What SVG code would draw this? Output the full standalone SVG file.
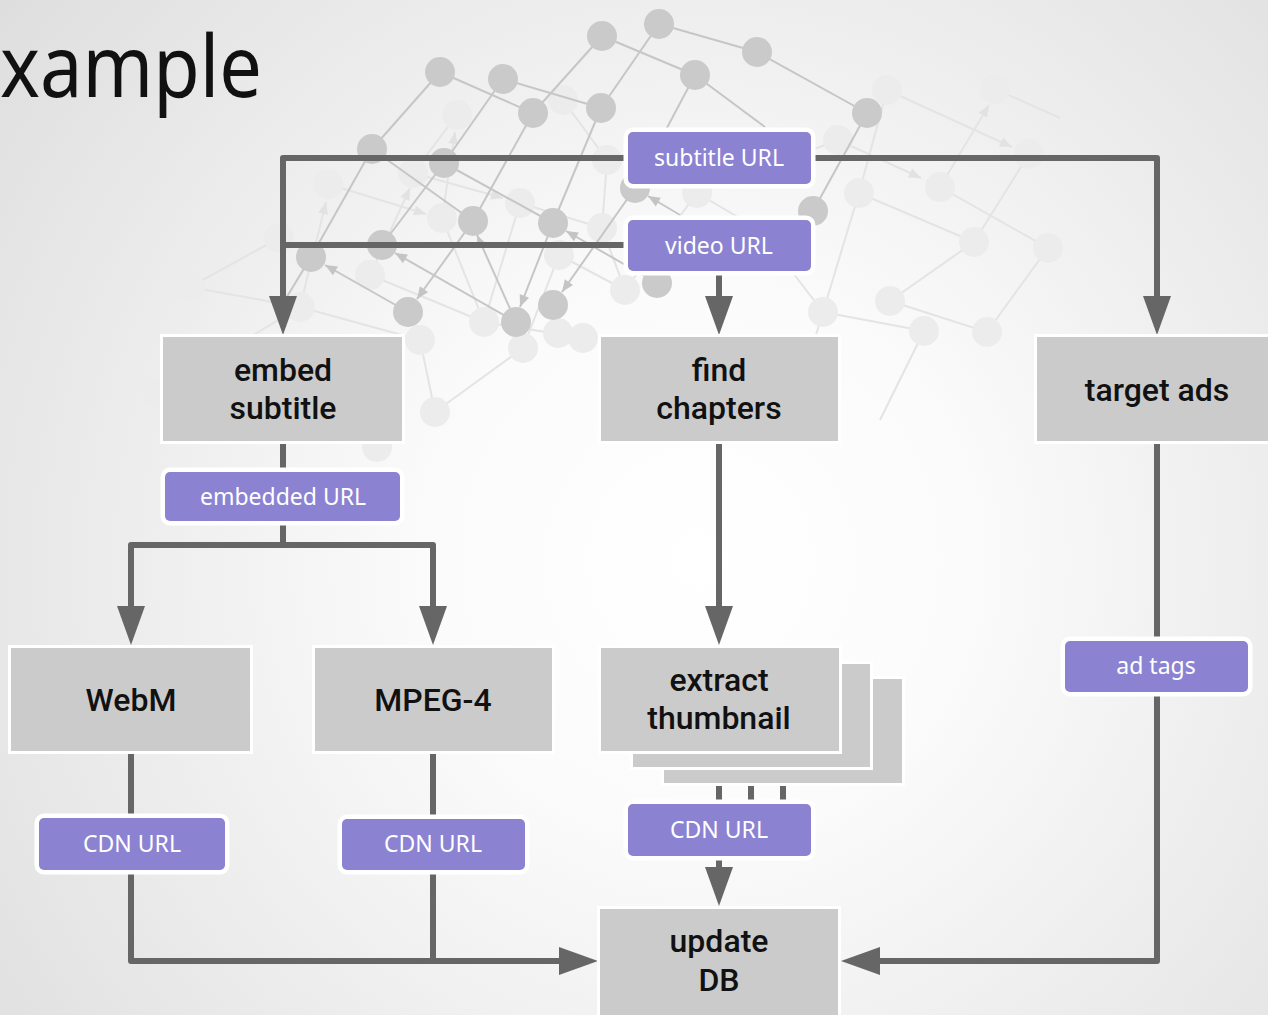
<svg xmlns="http://www.w3.org/2000/svg" width="1268" height="1015" viewBox="0 0 1268 1015">
  <defs>
    <radialGradient id="bg" gradientUnits="userSpaceOnUse" cx="700" cy="560" r="900">
      <stop offset="0" stop-color="#ffffff"/>
      <stop offset="0.3" stop-color="#fbfbfb"/>
      <stop offset="1" stop-color="#dedede"/>
    </radialGradient>
    <marker id="head" markerUnits="userSpaceOnUse" markerWidth="40" markerHeight="30" refX="0" refY="14" orient="auto" overflow="visible">
      <path d="M0,0 L39,14 L0,28 Z" fill="#666666"/>
    </marker>
    <marker id="netDark" markerUnits="userSpaceOnUse" markerWidth="14" markerHeight="12" refX="12" refY="5" orient="auto" overflow="visible">
      <path d="M0,0 L12,5 L0,10 Z" fill="#c4c4c4"/>
    </marker>
    <marker id="netLight" markerUnits="userSpaceOnUse" markerWidth="14" markerHeight="12" refX="12" refY="5" orient="auto" overflow="visible">
      <path d="M0,0 L12,5 L0,10 Z" fill="#e2e2e2"/>
    </marker>
    <style>
      .box { fill: #cbcbcb; stroke: #ffffff; stroke-width: 6; paint-order: stroke; }
      .tag { fill: #8b83d2; stroke: #ffffff; stroke-width: 9; stroke-linejoin: round; paint-order: stroke; }
      .btxt { font-family: Roboto, "Noto Sans", sans-serif; font-size: 32px; font-weight: 500; fill: #111111; text-anchor: middle; }
      .ttxt { font-family: "Noto Sans", "Open Sans", sans-serif; font-size: 23px; fill: #ffffff; text-anchor: middle; }
      .conn { fill: none; stroke: #666666; stroke-width: 6; stroke-linejoin: round; }
      .conn.arrow { marker-end: url(#head); }
      .nd { stroke: #c6c6c6; stroke-width: 2; fill: none; }
      .nd.a { marker-end: url(#netDark); }
      .nl { stroke: #e4e4e4; stroke-width: 2; fill: none; }
      .nl.a { marker-end: url(#netLight); }
      .cd { fill: #cacaca; }
      .cl { fill: #ececec; }
    </style>
  </defs>

  <!-- page background -->
  <rect x="0" y="0" width="1268" height="1015" fill="url(#bg)"/>

  <!-- title -->
  <text x="0" y="97" textLength="262" lengthAdjust="spacingAndGlyphs" font-family="Noto Sans, Open Sans, sans-serif" font-size="86" fill="#111111">xample</text>

  <!-- decorative network mesh -->
  <g id="mesh">
    <g id="mesh-light-lines">
      <path class="nl" d="M300,307 L190,287"/>
      <path class="nl" d="M190,287 L279,238"/>
      <path class="nl a" d="M300,307 L326,202"/>
      <path class="nl a" d="M328,184 L426,214"/>
      <path class="nl a" d="M370,275 L410,188"/>
      <path class="nl" d="M370,275 L484,322"/>
      <path class="nl" d="M442,218 L484,322"/>
      <path class="nl" d="M457,115 L413,173"/>
      <path class="nl a" d="M442,218 L455,132"/>
      <path class="nl" d="M520,203 L484,322"/>
      <path class="nl" d="M520,203 L602,228"/>
      <path class="nl" d="M563,100 L607,160"/>
      <path class="nl" d="M607,160 L602,228"/>
      <path class="nl a" d="M413,173 L503,198"/>
      <path class="nl" d="M602,228 L625,290"/>
      <path class="nl" d="M697,193 L625,290"/>
      <path class="nl" d="M559,255 L523,348"/>
      <path class="nl" d="M559,255 L625,290"/>
      <path class="nl" d="M484,322 L583,338"/>
      <path class="nl" d="M420,340 L435,412"/>
      <path class="nl" d="M300,307 L420,340"/>
      <path class="nl" d="M157,393 L300,307"/>
      <path class="nl" d="M523,348 L435,412"/>
      <path class="nl" d="M697,193 L838,140"/>
      <path class="nl a" d="M887,90 L1012,147"/>
      <path class="nl" d="M995,89 L1060,118"/>
      <path class="nl a" d="M940,187 L989,105"/>
      <path class="nl a" d="M838,140 L921,178"/>
      <path class="nl" d="M1029,154 L974,242"/>
      <path class="nl" d="M859,193 L974,242"/>
      <path class="nl" d="M940,187 L1048,248"/>
      <path class="nl" d="M974,242 L890,301"/>
      <path class="nl" d="M1048,248 L987,332"/>
      <path class="nl" d="M859,193 L823,312"/>
      <path class="nl" d="M823,312 L924,331"/>
      <path class="nl" d="M890,301 L987,332"/>
      <path class="nl" d="M887,90 L859,193"/>
      <path class="nl" d="M823,312 L790,420"/>
      <path class="nl" d="M924,331 L880,420"/>
      <path class="nl" d="M1029,154 L1060,160"/>
      <path class="nl" d="M697,193 L760,230 L823,312"/>
    </g>
    <g id="mesh-light-nodes">
      <circle class="cl" cx="457" cy="115" r="15"/>
      <circle class="cl" cx="563" cy="100" r="15"/>
      <circle class="cl" cx="607" cy="160" r="15"/>
      <circle class="cl" cx="328" cy="184" r="15"/>
      <circle class="cl" cx="413" cy="173" r="15"/>
      <circle class="cl" cx="442" cy="218" r="15"/>
      <circle class="cl" cx="520" cy="203" r="15"/>
      <circle class="cl" cx="602" cy="228" r="15"/>
      <circle class="cl" cx="697" cy="193" r="15"/>
      <circle class="cl" cx="370" cy="275" r="15"/>
      <circle class="cl" cx="300" cy="307" r="15"/>
      <circle class="cl" cx="484" cy="322" r="15"/>
      <circle class="cl" cx="559" cy="255" r="15"/>
      <circle class="cl" cx="625" cy="290" r="15"/>
      <circle class="cl" cx="420" cy="340" r="15"/>
      <circle class="cl" cx="523" cy="348" r="15"/>
      <circle class="cl" cx="558" cy="333" r="15"/>
      <circle class="cl" cx="583" cy="338" r="15"/>
      <circle class="cl" cx="887" cy="90" r="15"/>
      <circle class="cl" cx="995" cy="89" r="15"/>
      <circle class="cl" cx="838" cy="140" r="15"/>
      <circle class="cl" cx="1029" cy="154" r="15"/>
      <circle class="cl" cx="859" cy="193" r="15"/>
      <circle class="cl" cx="940" cy="187" r="15"/>
      <circle class="cl" cx="974" cy="242" r="15"/>
      <circle class="cl" cx="1048" cy="248" r="15"/>
      <circle class="cl" cx="823" cy="312" r="15"/>
      <circle class="cl" cx="890" cy="301" r="15"/>
      <circle class="cl" cx="924" cy="331" r="15"/>
      <circle class="cl" cx="987" cy="332" r="15"/>
      <circle class="cl" cx="190" cy="287" r="15"/>
      <circle class="cl" cx="279" cy="238" r="15"/>
      <circle class="cl" cx="157" cy="393" r="15"/>
      <circle class="cl" cx="435" cy="412" r="15"/>
      <circle class="cl" cx="377" cy="447" r="15"/>
    </g>
    <g id="mesh-dark-lines">
      <path class="nd" d="M440,72 L372,149"/>
      <path class="nd" d="M440,72 L533,113"/>
      <path class="nd" d="M503,79 L601,108"/>
      <path class="nd" d="M503,79 L444,163"/>
      <path class="nd" d="M602,36 L533,113"/>
      <path class="nd" d="M659,24 L601,108"/>
      <path class="nd" d="M602,36 L695,75"/>
      <path class="nd" d="M659,24 L757,52"/>
      <path class="nd" d="M757,52 L867,113"/>
      <path class="nd" d="M695,75 L635,188"/>
      <path class="nd" d="M695,75 L765,127"/>
      <path class="nd" d="M867,113 L813,211"/>
      <path class="nd" d="M372,149 L311,257"/>
      <path class="nd" d="M372,149 L473,221"/>
      <path class="nd" d="M444,163 L382,245"/>
      <path class="nd" d="M444,163 L553,223"/>
      <path class="nd" d="M533,113 L473,221"/>
      <path class="nd" d="M601,108 L553,223"/>
      <path class="nd" d="M311,257 L285,300"/>
      <path class="nd a" d="M473,221 L417,299"/>
      <path class="nd a" d="M553,223 L520,307"/>
      <path class="nd a" d="M408,312 L325,265"/>
      <path class="nd a" d="M516,322 L477,235"/>
      <path class="nd a" d="M635,188 L562,292"/>
      <path class="nd a" d="M516,322 L395,253"/>
      <path class="nd a" d="M657,283 L566,231"/>
      <path class="nd a" d="M680,215 L648,196"/>
    </g>
    <g id="mesh-dark-nodes">
      <circle class="cd" cx="440" cy="72" r="15"/>
      <circle class="cd" cx="503" cy="79" r="15"/>
      <circle class="cd" cx="602" cy="36" r="15"/>
      <circle class="cd" cx="659" cy="24" r="15"/>
      <circle class="cd" cx="757" cy="52" r="15"/>
      <circle class="cd" cx="695" cy="75" r="15"/>
      <circle class="cd" cx="533" cy="113" r="15"/>
      <circle class="cd" cx="601" cy="108" r="15"/>
      <circle class="cd" cx="867" cy="113" r="15"/>
      <circle class="cd" cx="372" cy="149" r="15"/>
      <circle class="cd" cx="444" cy="163" r="15"/>
      <circle class="cd" cx="473" cy="221" r="15"/>
      <circle class="cd" cx="553" cy="223" r="15"/>
      <circle class="cd" cx="813" cy="211" r="15"/>
      <circle class="cd" cx="311" cy="257" r="15"/>
      <circle class="cd" cx="382" cy="245" r="15"/>
      <circle class="cd" cx="408" cy="312" r="15"/>
      <circle class="cd" cx="516" cy="322" r="15"/>
      <circle class="cd" cx="553" cy="305" r="15"/>
      <circle class="cd" cx="657" cy="283" r="15"/>
      <circle class="cd" cx="635" cy="188" r="15"/>
    </g>
  </g>

  <!-- connectors -->
  <g id="connectors">
    <path class="conn arrow" d="M628,158 H283 V296"/>
    <path class="conn arrow" d="M811,158 H1157 V296"/>
    <path class="conn" d="M628,245 H283"/>
    <path class="conn arrow" d="M719,271 V296"/>
    <path class="conn" d="M283,441 V471"/>
    <path class="conn" d="M283,521 V545"/>
    <path class="conn arrow" d="M283,545 H131 V606"/>
    <path class="conn arrow" d="M283,545 H433 V606"/>
    <path class="conn arrow" d="M719,441 V606"/>
    <path class="conn" d="M131,751 V817"/>
    <path class="conn" d="M433,751 V819"/>
    <path class="conn arrow" d="M131,871 V961 H559"/>
    <path class="conn" d="M433,870 V961"/>
    <path class="conn" d="M719,751 V804"/>
    <path class="conn" d="M751,760 V804"/>
    <path class="conn" d="M783,775 V804"/>
    <path class="conn arrow" d="M719,856 V867"/>
    <path class="conn" d="M1157,441 V640"/>
    <path class="conn arrow" d="M1157,692 V961 H880"/>
  </g>

  <!-- process nodes -->
  <g id="node-embed-subtitle">
    <rect class="box" x="163" y="337" width="239" height="104"/>
    <text class="btxt" x="283" y="381">embed</text>
    <text class="btxt" x="283" y="419">subtitle</text>
  </g>
  <g id="node-find-chapters">
    <rect class="box" x="601" y="337" width="237" height="104"/>
    <text class="btxt" x="719" y="381">find</text>
    <text class="btxt" x="719" y="419">chapters</text>
  </g>
  <g id="node-target-ads">
    <rect class="box" x="1037" y="337" width="240" height="104"/>
    <text class="btxt" x="1157" y="401">target ads</text>
  </g>
  <g id="node-webm">
    <rect class="box" x="11" y="648" width="239" height="103"/>
    <text class="btxt" x="131" y="711">WebM</text>
  </g>
  <g id="node-mpeg4">
    <rect class="box" x="315" y="648" width="237" height="103"/>
    <text class="btxt" x="433" y="711">MPEG-4</text>
  </g>
  <g id="node-extract-thumbnail">
    <rect class="box" x="664" y="679" width="238" height="104"/>
    <rect class="box" x="633" y="664" width="237" height="103"/>
    <rect class="box" x="601" y="648" width="238" height="103"/>
    <text class="btxt" x="719" y="691">extract</text>
    <text class="btxt" x="719" y="729">thumbnail</text>
  </g>
  <g id="node-update-db">
    <rect class="box" x="600" y="909" width="238" height="110"/>
    <text class="btxt" x="719" y="952">update</text>
    <text class="btxt" x="719" y="991">DB</text>
  </g>

  <!-- data labels -->
  <g id="label-subtitle-url">
    <rect class="tag" x="628" y="132" width="183" height="52" rx="5"/>
    <text class="ttxt" x="719" y="166">subtitle URL</text>
  </g>
  <g id="label-video-url">
    <rect class="tag" x="628" y="220" width="183" height="51" rx="5"/>
    <text class="ttxt" x="719" y="254">video URL</text>
  </g>
  <g id="label-embedded-url">
    <rect class="tag" x="165" y="472" width="235" height="49" rx="5"/>
    <text class="ttxt" x="283" y="505">embedded URL</text>
  </g>
  <g id="label-cdn-url-webm">
    <rect class="tag" x="39" y="818" width="186" height="52" rx="5"/>
    <text class="ttxt" x="132" y="852">CDN URL</text>
  </g>
  <g id="label-cdn-url-mpeg4">
    <rect class="tag" x="342" y="819" width="183" height="51" rx="5"/>
    <text class="ttxt" x="433" y="852">CDN URL</text>
  </g>
  <g id="label-cdn-url-thumbnail">
    <rect class="tag" x="628" y="804" width="183" height="52" rx="5"/>
    <text class="ttxt" x="719" y="838">CDN URL</text>
  </g>
  <g id="label-ad-tags">
    <rect class="tag" x="1065" y="641" width="183" height="51" rx="5"/>
    <text class="ttxt" x="1156" y="674">ad tags</text>
  </g>
</svg>
